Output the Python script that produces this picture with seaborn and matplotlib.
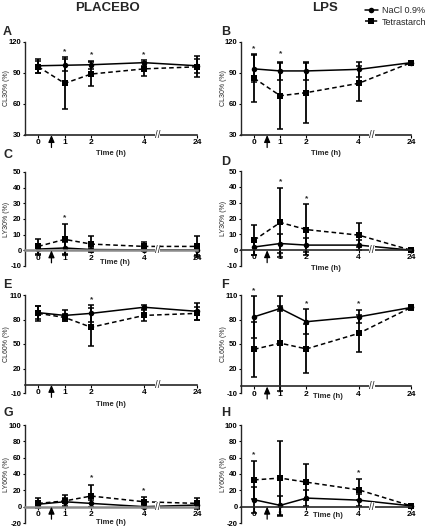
import numpy as np
import pandas as pd
import matplotlib
matplotlib.use("Agg")
import matplotlib.pyplot as plt
import seaborn as sns

sns.set_theme(style="ticks")
plt.rcParams['font.family'] = ['Liberation Sans', 'DejaVu Sans']
plt.rcParams['axes.unicode_minus'] = False

# ---------------- data ----------------
time_h = [0, 1, 2, 4, 24]
time_labels = ["0", "1", "2", "4", "24"]
groups = ["NaCl 0.9%", "Tetrastarch"]

# Panel A: CL30% placebo
A_nacl = [97, 97.5, 98, 100, 97]
A_nacl_sd = [7, 6, 4, 3, 7]
A_tetra = [96, 80, 89, 94, 96]
A_tetra_sd = [6, 25, 12, 7, 10]
A_star_t = [1, 2, 4]
A_star_y = [111, 108, 108]

# Panel B: CL30% LPS
B_nacl = [94, 92, 92, 93.5, 100]
B_nacl_sd = [13, 9, 9, 7, 0.5]
B_tetra = [85, 68, 71, 80, 100]
B_tetra_sd = [23, 32, 29, 17, 0.5]
B_star_t = [0, 1]
B_star_y = [113.5, 109]

# Panel C: LY30% placebo
C_nacl = [0.8, 1.5, 0.5, 0.3, 0.3]
C_nacl_sd = [3.5, 4, 1, 1, 3.5]
C_tetra = [2.5, 7, 4, 2.5, 2.5]
C_tetra_sd = [5, 10, 5, 3, 6.5]
C_star_t = [1]
C_star_y = [21]

# Panel D: LY30% LPS
D_nacl = [2, 4.2, 3.2, 3.2, 0]
D_nacl_sd = [5, 6, 4.5, 3, 0.3]
D_tetra = [6.3, 17.5, 13, 9.5, 0]
D_tetra_sd = [9.5, 22, 16, 7.5, 0.3]
D_star_t = [1, 2]
D_star_y = [43, 32.7]

# Panel E: CL60% placebo
E_nacl = [88.4, 85, 87.5, 95, 90]
E_nacl_sd = [8, 7, 10, 2.5, 10]
E_tetra = [87.5, 82.5, 70.5, 85, 87.5]
E_tetra_sd = [9, 4, 23, 7, 8]
E_star_t = [2]
E_star_y = [104.7]

# Panel F: CL60% LPS
F_nacl = [83.3, 93.5, 77.3, 83.3, 94.7]
F_nacl_sd = [26, 3, 15, 8, 3]
F_tetra = [43.5, 51, 44, 63, 94.7]
F_tetra_sd = [34, 58, 30, 23, 3]
F_star_t = [0, 2, 4]
F_star_y = [115, 99.5, 99]

# Panel G: LY60% placebo
G_nacl = [3, 6, 4, 0, 2]
G_nacl_sd = [4, 5, 4, 2, 4]
G_tetra = [4, 7, 13, 6, 4]
G_tetra_sd = [6, 7, 13, 6, 7]
G_star_t = [2, 4]
G_star_y = [35, 20]

# Panel H: LY60% LPS
H_nacl = [8.5, 1.6, 10.5, 8, 1]
H_nacl_sd = [16, 12, 10, 7, 1]
H_tetra = [32.8, 35, 30, 20.6, 1]
H_tetra_sd = [23, 46, 22, 13, 1]
H_star_t = [0, 4]
H_star_y = [64, 41.7]

# broken x-axis: 24 h drawn two steps after 4 h
axis_pos = {0: 0, 1: 1, 2: 2, 4: 4, 24: 6}

panels = [
    ("A", "CL30% (%)", A_nacl, A_nacl_sd, A_tetra, A_tetra_sd, A_star_t, A_star_y, (30, 120), [30, 60, 90, 120]),
    ("B", "CL30% (%)", B_nacl, B_nacl_sd, B_tetra, B_tetra_sd, B_star_t, B_star_y, (30, 120), [30, 60, 90, 120]),
    ("C", "LY30% (%)", C_nacl, C_nacl_sd, C_tetra, C_tetra_sd, C_star_t, C_star_y, (-10, 50), [-10, 0, 10, 20, 30, 40, 50]),
    ("D", "LY30% (%)", D_nacl, D_nacl_sd, D_tetra, D_tetra_sd, D_star_t, D_star_y, (-10, 50), [-10, 0, 10, 20, 30, 40, 50]),
    ("E", "CL60% (%)", E_nacl, E_nacl_sd, E_tetra, E_tetra_sd, E_star_t, E_star_y, (-10, 110), [-10, 20, 50, 80, 110]),
    ("F", "CL60% (%)", F_nacl, F_nacl_sd, F_tetra, F_tetra_sd, F_star_t, F_star_y, (-10, 110), [-10, 20, 50, 80, 110]),
    ("G", "LY60% (%)", G_nacl, G_nacl_sd, G_tetra, G_tetra_sd, G_star_t, G_star_y, (-20, 100), [-20, 0, 20, 40, 60, 80, 100]),
    ("H", "LY60% (%)", H_nacl, H_nacl_sd, H_tetra, H_tetra_sd, H_star_t, H_star_y, (-20, 100), [-20, 0, 20, 40, 60, 80, 100]),
]

# layout in pixels: left, top, right, bottom
W, Hh = 433, 528
boxes = {
    "A": (25, 42, 197, 135), "B": (241, 42, 411, 135),
    "C": (25, 172, 197, 266), "D": (241, 171, 411, 266),
    "E": (25, 295, 197, 393), "F": (241, 295, 411, 393),
    "G": (25, 425, 197, 523), "H": (241, 425, 411, 523),
}
spine_y = {"A": None, "B": None, "C": 0, "D": 0, "E": 0, "F": -2, "G": 0, "H": 0}
spine_col = {"C": "#8a8a8a", "G": "#8a8a8a"}
# Time (h) label: (x data, offset points below spine, ha)
time_lab = {"A": (2.75, -11, "center"), "B": (2.75, -11, "center"),
            "C": (2.9, -6, "center"), "D": (2.75, -11, "center"),
            "E": (2.75, -12, "center"), "F": (2.25, -5, "left"),
            "G": (2.75, -9, "center"), "H": (2.25, -4, "left")}
letter_y = {"A": 32, "B": 32, "C": 155, "D": 162, "E": 285, "F": 285, "G": 413, "H": 413}

fig = plt.figure(figsize=(W / 100, Hh / 100), dpi=100)

handles = None
for (lab, ylab, nacl, nsd, tetra, tsd, st, sy, ylim, yticks) in panels:
    l, t, r, b = boxes[lab]
    ax = fig.add_axes([l / W, 1 - b / Hh, (r - l) / W, (b - t) / Hh])
    pos = [axis_pos[v] for v in time_h]
    df = pd.DataFrame({
        "pos": pos * 2,
        "val": list(nacl) + list(tetra),
        "sd": list(nsd) + list(tsd),
        "grp": [groups[0]] * 5 + [groups[1]] * 5,
    })
    sns.lineplot(data=df, x="pos", y="val", style="grp", ax=ax,
                 markers={groups[0]: "o", groups[1]: "s"},
                 dashes={groups[0]: "", groups[1]: (3, 2)},
                 color="black", lw=1.1, markersize=4, markeredgewidth=0,
                 legend=(lab == "B"), clip_on=False)
    for g in groups:
        sub = df[df.grp == g]
        ax.errorbar(sub.pos, sub.val, yerr=sub.sd, fmt="none", ecolor="black",
                    elinewidth=1.3, capsize=2, capthick=1.1, clip_on=False)
    for x, y in zip(st, sy):
        ax.text(axis_pos[x], y, "*", ha="center", va="center", fontsize=6, fontweight="bold")

    ax.set_xlim(-0.5, 6.0)
    ax.set_ylim(*ylim)
    ax.set_yticks(yticks)
    ax.set_xticks([axis_pos[v] for v in time_h])
    ax.set_xticklabels(time_labels)
    ax.set_xlabel("")
    ax.set_ylabel(ylab, fontsize=5)
    ax.yaxis.set_label_coords(-0.085, 0.5)
    ax.spines["top"].set_visible(False)
    ax.spines["right"].set_visible(False)
    ax.spines["left"].set_linewidth(1.0)
    ax.spines["bottom"].set_linewidth(1.2)
    if spine_y[lab] is not None:
        ax.spines["bottom"].set_position(("data", spine_y[lab]))
    if lab in spine_col:
        ax.spines["bottom"].set_color(spine_col[lab])
        ax.spines["bottom"].set_linewidth(1.8)
    ax.tick_params(axis="both", labelsize=6, length=2, width=0.8, pad=1, colors="black")
    ax.tick_params(axis="y", labelsize=5.5, length=1.5)
    for tl in ax.get_xticklabels() + ax.get_yticklabels():
        tl.set_fontweight("bold")
    ax.patch.set_alpha(0)

    sy0 = ylim[0] if spine_y[lab] is None else spine_y[lab]
    # Time label
    tx, toff, tha = time_lab[lab]
    ax.annotate("Time (h)", xy=(tx, sy0), xycoords="data", xytext=(0, toff),
                textcoords="offset points", ha=tha,
                va="top", fontsize=5.5, fontweight="bold", annotation_clip=False)
    # arrow (injection) at 0.5 h
    ax.annotate("", xy=(0.5, sy0), xycoords="data", xytext=(0, -9),
                textcoords="offset points",
                arrowprops=dict(arrowstyle="-|>,head_width=0.15,head_length=0.35",
                                color="black", lw=0.9, shrinkA=0, shrinkB=0),
                annotation_clip=False)
    # axis break marks
    ax.annotate("//", xy=(4.5, sy0), xycoords="data", ha="center", va="center",
                fontsize=7, annotation_clip=False,
                bbox=dict(boxstyle="square,pad=0", fc="white", ec="none"))

    fig.text((l - 22 if lab in "ACEG" else l - 20) / W, 1 - letter_y[lab] / Hh, lab,
             fontsize=9, fontweight="bold", va="center", ha="left")

    if lab == "B":
        leg = ax.get_legend()
        handles = leg.legend_handles
        leg.remove()

fig.legend(handles, groups, loc="upper right", bbox_to_anchor=(1.0, 1.0),
           frameon=False, fontsize=6.5, handlelength=1.4, handletextpad=0.5,
           labelspacing=0.25, borderaxespad=0.3)

fig.text(108 / W, 1 - 8 / Hh, "PLACEBO", fontsize=9.5, fontweight="bold", ha="center", va="center")
fig.text(325 / W, 1 - 8 / Hh, "LPS", fontsize=9.5, fontweight="bold", ha="center", va="center")

fig.savefig("out.png", dpi=100)
